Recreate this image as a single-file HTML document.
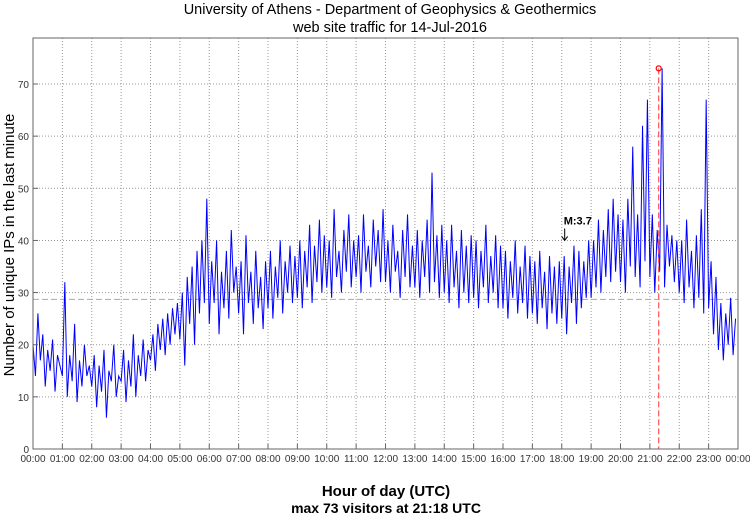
<!DOCTYPE html>
<html><head><meta charset="utf-8"><style>
body{margin:0;background:#fff;font-family:"Liberation Sans",sans-serif}
svg text{font-family:"Liberation Sans",sans-serif}
</style></head><body>
<svg id="chart" width="750" height="515" xmlns="http://www.w3.org/2000/svg">
<text x="390" y="14" font-size="14.5" text-anchor="middle">University of Athens - Department of Geophysics &amp; Geothermics</text>
<text x="390" y="32" font-size="14.5" text-anchor="middle">web site traffic for 14-Jul-2016</text>
<text x="386" y="496" font-size="15" font-weight="bold" text-anchor="middle">Hour of day (UTC)</text>
<text x="386" y="513" font-size="14" font-weight="bold" text-anchor="middle">max 73 visitors at 21:18 UTC</text>
<text transform="translate(14,245) rotate(-90)" font-size="15" text-anchor="middle">Number of unique IPs in the last minute</text>
<g id="grid"></g><g id="series"></g><g id="axes"></g>
</svg>
<script>
const hourLabels=["00:00","01:00","02:00","03:00","04:00","05:00","06:00","07:00","08:00","09:00","10:00","11:00","12:00","13:00","14:00","15:00","16:00","17:00","18:00","19:00","20:00","21:00","22:00","23:00","00:00"];
const yTicks=[0,10,20,30,40,50,60,70];
const visitors=[
20,14,26,17,22,12,19,15,21,11,18,16,
14,32,10,18,13,24,9,17,12,20,14,16,
12,18,8,16,11,19,6,15,13,20,10,14,
13,19,9,17,12,22,10,18,14,21,13,19,
17,22,15,24,19,25,18,26,20,27,22,28,
21,30,16,33,24,35,20,38,26,40,28,48,
24,36,28,40,22,34,27,38,25,42,30,35,
26,36,22,41,28,34,24,38,27,33,23,36,
27,38,25,35,29,40,26,36,30,39,28,37,
29,40,27,38,31,43,28,39,32,44,30,41,
31,40,29,46,33,38,30,42,34,45,31,40,
33,41,30,45,34,39,31,44,35,42,32,46,
32,40,30,43,34,38,29,42,33,45,31,39,
31,42,29,40,33,44,30,53,32,41,29,43,
30,40,28,43,31,38,27,42,30,39,28,41,
29,40,27,38,31,43,28,37,30,41,27,39,
27,38,25,36,29,40,26,35,28,39,25,37,
26,36,24,38,27,34,23,37,26,35,24,36,
25,37,22,35,28,39,24,38,27,36,29,40,
29,40,31,44,30,42,33,46,32,48,34,45,
32,44,30,48,35,58,33,45,31,62,36,67,
33,45,30,42,34,73,31,43,35,41,32,40,
30,40,28,44,31,38,27,41,29,46,26,67,
27,36,22,33,19,28,17,26,20,29,18,25];
const meanValue=[28.7];
const peak={hour:21.3,value:73};
const quake={hour:18.1,value:40,label:"M:3.7"};
const L=33,R=738,T=38,B=449,PU=5.214;
const x=h=>L+(R-L)*h/24;
const y=v=>B-v*PU;
const NS="http://www.w3.org/2000/svg";
function mk(p,tag,a){const e=document.createElementNS(NS,tag);for(const k in a)e.setAttribute(k,a[k]);document.getElementById(p).appendChild(e);return e;}
hourLabels.forEach((lab,i)=>{
 if(i>0&&i<24){const g=mk('grid','line',{x1:x(i),x2:x(i),y1:T,y2:B,stroke:'#999','stroke-dasharray':'1,2','stroke-width':1});
 }
 const t=mk('axes','line',{x1:x(i),x2:x(i),y1:B,y2:B-5,stroke:'#666'});
 
 const tx=mk('axes','text',{x:x(i),y:B+13,'font-size':'10','text-anchor':'middle',fill:'#333'});tx.textContent=lab;
 
});
yTicks.forEach(v=>{
 if(v>0){const g=mk('grid','line',{x1:L,x2:R,y1:y(v),y2:y(v),stroke:'#999','stroke-dasharray':'1,2'});
 }
 const t=mk('axes','line',{x1:L,x2:L+5,y1:y(v),y2:y(v),stroke:'#666'});
 
 const tx=mk('axes','text',{x:L-4,y:y(v)+4,'font-size':'10','text-anchor':'end',fill:'#333'});tx.textContent=v;
 
});
const ml=mk('grid','line',{x1:L,x2:R,y1:y(meanValue[0]),y2:y(meanValue[0]),stroke:'#aaa','stroke-dasharray':'6,3'});

const pts=visitors.map((v,i)=>x(i*24/visitors.length)+','+y(v)).join(' ');
const pl=mk('series','polyline',{points:pts,fill:'none',stroke:'#0000ff','stroke-width':1});

const pk=mk('series','line',{x1:x(peak.hour),x2:x(peak.hour),y1:y(peak.value),y2:B,stroke:'#ff5555','stroke-dasharray':'6,3','stroke-width':1.2});

const pc=mk('series','circle',{cx:x(peak.hour),cy:y(peak.value),r:2.5,fill:'none',stroke:'red','stroke-width':1.2});

const qx=x(quake.hour), qy=y(quake.value);
const ql=mk('series','text',{x:qx-1,y:qy-16,'font-size':'11','font-weight':'bold'});ql.textContent=quake.label;

const qa=mk('series','path',{d:`M${qx} ${qy-12} L${qx} ${qy} M${qx-3} ${qy-4} L${qx} ${qy} L${qx+3} ${qy-4}`,stroke:'#000',fill:'none','stroke-width':1});

const fr=mk('axes','rect',{x:L,y:T,width:R-L,height:B-T,fill:'none',stroke:'#666','stroke-width':1});

</script>
</body></html>
